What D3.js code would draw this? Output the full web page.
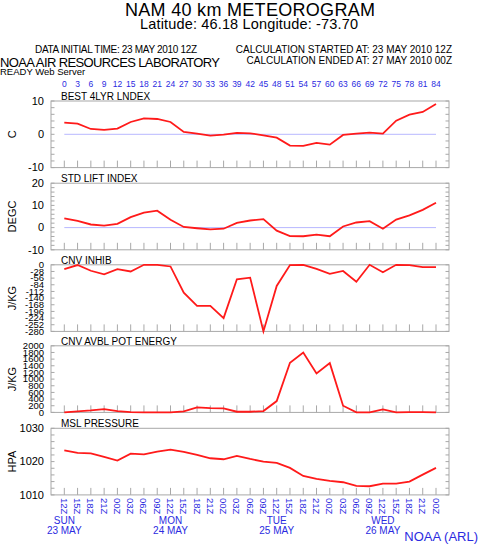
<!DOCTYPE html>
<html><head><meta charset="utf-8">
<script src="https://cdn.jsdelivr.net/npm/d3@7"></script>
<style>body{margin:0;background:#fff}svg{display:block}text{font-family:"Liberation Sans",Arial,sans-serif}</style>
</head><body>
<script>
const hours = [0,3,6,9,12,15,18,21,24,27,30,33,36,39,42,45,48,51,54,57,60,63,66,69,72,75,78,81,84];
const timeLabels = ["12Z","15Z","18Z","21Z","00Z","03Z","06Z","09Z","12Z","15Z","18Z","21Z","00Z","03Z","06Z","09Z","12Z","15Z","18Z","21Z","00Z","03Z","06Z","09Z","12Z","15Z","18Z","21Z","00Z"];
const dayHours = [0,24,48,72];
const dayNames = ["SUN","MON","TUE","WED"];
const dayDates = ["23 MAY","24 MAY","25 MAY","26 MAY"];

const best4 = [3.5,3.2,1.6,1.3,1.7,3.7,4.8,4.6,3.7,0.7,0.2,-0.4,-0.1,0.4,0.3,-0.3,-1.0,-3.4,-3.5,-2.6,-3.1,-0.2,0.2,0.5,0.2,4.1,5.9,6.7,9.1];
const stdLift = [4.2,3.0,1.4,0.9,1.7,4.7,6.7,7.6,3.5,0.3,-0.3,-0.8,-0.5,2.1,3.2,3.8,-1.4,-3.8,-3.9,-3.2,-3.9,0.5,2.3,2.9,-0.5,3.6,5.5,8.0,11.2];
const cnvInhib = [-18,-1,-25,-40,-18,-28,0,0,-7,-117,-173,-173,-224,-61,-54,-280,-89,-1,0,-17,-38,-26,-71,0,-31,0,-1,-10,-10];
const cape = [0,30,60,100,40,10,0,0,0,30,150,130,120,20,20,40,340,1490,1800,1170,1480,200,0,0,90,0,10,10,0];
const mslp = [1023.4,1022.6,1022.5,1021.4,1020.3,1022.4,1022.2,1023.0,1023.6,1022.9,1022.0,1021.0,1020.7,1021.7,1020.8,1020.0,1019.6,1018.1,1015.7,1014.8,1014.2,1013.8,1012.7,1012.6,1013.4,1013.4,1014.0,1016.1,1018.1];

const panelTitles = ["BEST 4LYR LNDEX","STD LIFT INDEX","CNV INHIB","CNV AVBL POT ENERGY","MSL PRESSURE"];
const panelUnits = ["C","DEGC","J/KG","J/KG","HPA"];
const panelDomains = [[-10,10],[-10,20],[-280,0],[0,2000],[1010,1030]];
const panelLabelTicks = [[-10,0,10],[-10,0,10,20],d3.range(-280,1,28),d3.range(0,2001,200),[1010,1020,1030]];
const panelMinorStep = [2,2,28,200,2];
const panelZeroLine = [true,true,false,false,false];
const panelLabelSize = [11,11,9.5,9.5,11];
const panelSeries = [best4,stdLift,cnvInhib,cape,mslp];

const W=480,H=545;
const svg=d3.select("body").append("svg").attr("width",W).attr("height",H);
const blue="#2b2bdf", gray="#a8a8a8";
const x=d3.scaleLinear().domain([0,84]).range([64.3,436]);
const L=51,R=449;

// header
svg.append("text").attr("x",250).attr("y",16).attr("text-anchor","middle").attr("font-size",18).attr("textLength",250).text("NAM 40 km METEOROGRAM");
svg.append("text").attr("x",249).attr("y",29).attr("text-anchor","middle").attr("font-size",14.5).attr("textLength",218).text("Latitude: 46.18 Longitude: -73.70");
svg.append("text").attr("x",35).attr("y",53).attr("font-size",10).attr("textLength",162).text("DATA INITIAL TIME: 23 MAY 2010 12Z");
svg.append("text").attr("x",452).attr("y",53).attr("font-size",10).attr("text-anchor","end").text("CALCULATION STARTED AT: 23 MAY 2010 12Z");
svg.append("text").attr("x",452).attr("y",64).attr("font-size",10).attr("text-anchor","end").text("CALCULATION ENDED AT: 27 MAY 2010 00Z");
svg.append("text").attr("x",0).attr("y",67).attr("font-size",13).attr("textLength",220).text("NOAA AIR RESOURCES LABORATORY");
svg.append("text").attr("x",0).attr("y",75).attr("font-size",9.5).text("READY Web Server");

// top hour labels
svg.append("g").selectAll("text").data(hours).join("text")
  .attr("x",d=>x(d)).attr("y",87).attr("text-anchor","middle").attr("font-size",8.5).attr("fill",blue).text(d=>d);

const tops=[101,183.2,264.8,345.8,428.3];
const ph=66.6;
panelSeries.forEach((vals,i)=>{
  const top=tops[i], bot=top+ph;
  const y=d3.scaleLinear().domain(panelDomains[i]).range([bot,top]);
  const g=svg.append("g");
  g.append("rect").attr("x",L).attr("y",top).attr("width",R-L).attr("height",ph).attr("fill","none").attr("stroke",gray).attr("stroke-width",1);
  const mt=d3.range(panelDomains[i][0],panelDomains[i][1]+0.001,panelMinorStep[i]);
  g.selectAll(".lt").data(mt).join("line").attr("class","lt").attr("x1",L).attr("x2",L+3.5).attr("y1",d=>y(d)).attr("y2",d=>y(d)).attr("stroke",gray);
  g.selectAll(".rt").data(mt).join("line").attr("class","rt").attr("x1",R-3.5).attr("x2",R).attr("y1",d=>y(d)).attr("y2",d=>y(d)).attr("stroke",gray);
  g.selectAll(".bt").data(hours).join("line").attr("class","bt").attr("x1",d=>x(d)).attr("x2",d=>x(d)).attr("y1",bot).attr("y2",bot-7).attr("stroke",gray);
  g.selectAll(".yl").data(panelLabelTicks[i]).join("text").attr("class","yl")
    .attr("x",44).attr("y",d=>y(d)).attr("dy","0.35em").attr("text-anchor","end").attr("font-size",panelLabelSize[i]).text(d=>d);
  g.append("text").attr("transform",`translate(16,${(top+bot)/2}) rotate(-90)`).attr("text-anchor","middle").attr("font-size",11).text(panelUnits[i]);
  g.append("text").attr("x",61).attr("y",top-1).attr("font-size",10).text(panelTitles[i]);
  if(panelZeroLine[i]) g.append("line").attr("x1",x(0)).attr("x2",x(84)).attr("y1",y(0)).attr("y2",y(0)).attr("stroke","#b8b8ff").attr("stroke-width",1);
  g.append("path").datum(vals).attr("fill","none").attr("stroke","#ff1a1a").attr("stroke-width",1.8)
    .attr("d",d3.line().x((d,j)=>x(hours[j])).y(d=>y(d)));
});

svg.append("g").selectAll("text").data(timeLabels).join("text")
  .attr("transform",(d,j)=>`translate(${x(hours[j])-3.5},498) rotate(90)`).attr("font-size",9.5).attr("fill",blue).text(d=>d);
svg.append("g").selectAll("text").data(dayNames).join("text")
  .attr("x",(d,j)=>x(dayHours[j])).attr("y",524).attr("text-anchor","middle").attr("font-size",10).attr("fill",blue).text(d=>d);
svg.append("g").selectAll("text").data(dayDates).join("text")
  .attr("x",(d,j)=>x(dayHours[j])).attr("y",534).attr("text-anchor","middle").attr("font-size",10).attr("fill",blue).text(d=>d);
svg.append("text").attr("x",478).attr("y",541).attr("text-anchor","end").attr("font-size",13).attr("fill",blue).text("NOAA (ARL)");
</script>
</body></html>
